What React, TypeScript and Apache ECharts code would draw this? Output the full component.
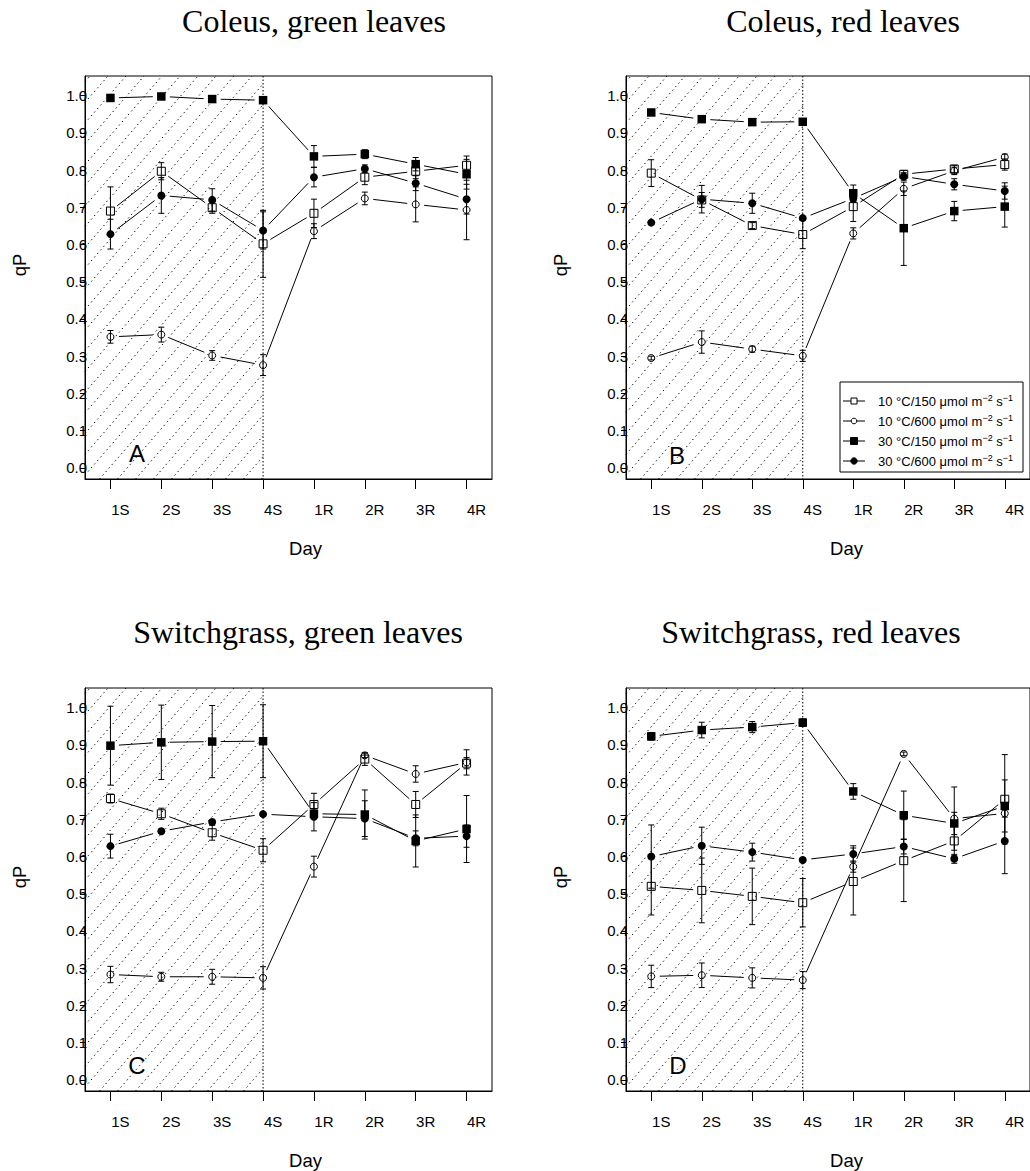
import React, { useEffect, useRef } from "react";
import * as echarts from "echarts";

// Day categories (S = stress, R = recovery)
const days = ["1S", "2S", "3S", "4S", "1R", "2R", "3R", "4R"];
const yTicks = [0, 0.1, 0.2, 0.3, 0.4, 0.5, 0.6, 0.7, 0.8, 0.9, 1.0];

// Coleus, green leaves
const cgT10L150 = [0.69, 0.797, 0.699, 0.602, 0.684, 0.781, 0.797, 0.813];
const cgT10L150Err = [0.065, 0.023, 0.015, 0.09, 0.038, 0.02, 0.02, 0.025];
const cgT10L600 = [0.352, 0.358, 0.302, 0.276, 0.636, 0.724, 0.708, 0.693];
const cgT10L600Err = [0.017, 0.02, 0.013, 0.028, 0.02, 0.017, 0.047, 0.08];
const cgT30L150 = [0.994, 0.998, 0.991, 0.988, 0.837, 0.843, 0.816, 0.789];
const cgT30L150Err = [0.004, 0.004, 0.004, 0.004, 0.029, 0.012, 0.018, 0.04];
const cgT30L600 = [0.628, 0.732, 0.72, 0.638, 0.781, 0.804, 0.765, 0.722];
const cgT30L600Err = [0.04, 0.048, 0.03, 0.05, 0.026, 0.01, 0.02, 0.04];

// Coleus, red leaves
const crT10L150 = [0.792, 0.72, 0.651, 0.627, 0.702, 0.789, 0.803, 0.815];
const crT10L150Err = [0.036, 0.02, 0.008, 0.038, 0.04, 0.01, 0.01, 0.015];
const crT10L600 = [0.295, 0.338, 0.319, 0.301, 0.63, 0.75, 0.798, 0.835];
const crT10L600Err = [0.005, 0.03, 0.008, 0.015, 0.015, 0.018, 0.01, 0.008];
const crT30L150 = [0.955, 0.937, 0.929, 0.93, 0.738, 0.644, 0.69, 0.702];
const crT30L150Err = [0.004, 0.004, 0.004, 0.006, 0.022, 0.1, 0.026, 0.055];
const crT30L600 = [0.659, 0.722, 0.711, 0.671, 0.724, 0.783, 0.762, 0.744];
const crT30L600Err = [0.005, 0.037, 0.027, 0.005, 0.01, 0.01, 0.015, 0.022];

// Switchgrass, green leaves
const sgT10L150 = [0.756, 0.715, 0.664, 0.617, 0.74, 0.862, 0.74, 0.851];
const sgT10L150Err = [0.012, 0.015, 0.02, 0.031, 0.03, 0.017, 0.035, 0.015];
const sgT10L600 = [0.283, 0.277, 0.277, 0.274, 0.573, 0.872, 0.822, 0.853];
const sgT10L600Err = [0.022, 0.012, 0.02, 0.03, 0.028, 0.006, 0.022, 0.034];
const sgT30L150 = [0.898, 0.907, 0.909, 0.91, 0.715, 0.713, 0.642, 0.674];
const sgT30L150Err = [0.106, 0.1, 0.097, 0.098, 0.01, 0.066, 0.07, 0.09];
const sgT30L600 = [0.628, 0.668, 0.693, 0.714, 0.707, 0.702, 0.649, 0.655];
const sgT30L600Err = [0.032, 0.006, 0.006, 0.005, 0.038, 0.048, 0.02, 0.03];

// Switchgrass, red leaves
const srT10L150 = [0.52, 0.509, 0.493, 0.476, 0.533, 0.589, 0.642, 0.754];
const srT10L150Err = [0.077, 0.087, 0.076, 0.065, 0.09, 0.11, 0.04, 0.12];
const srT10L600 = [0.278, 0.281, 0.274, 0.268, 0.573, 0.876, 0.702, 0.716];
const srT10L600Err = [0.03, 0.033, 0.027, 0.023, 0.015, 0.005, 0.085, 0.01];
const srT30L150 = [0.923, 0.94, 0.948, 0.96, 0.775, 0.711, 0.689, 0.736];
const srT30L150Err = [0.01, 0.021, 0.015, 0.01, 0.021, 0.065, 0.03, 0.07];
const srT30L600 = [0.6, 0.629, 0.612, 0.591, 0.607, 0.627, 0.594, 0.642];
const srT30L600Err = [0.085, 0.05, 0.024, 0.005, 0.022, 0.02, 0.012, 0.088];

const SANS = "'Liberation Sans', Arial, Helvetica, sans-serif";
const SERIF = "'Liberation Serif', 'Times New Roman', serif";

const treatments = [
  { label: "10 °C/150 μmol m", symbol: "rect", filled: false, size: 8 },
  { label: "10 °C/600 μmol m", symbol: "circle", filled: false, size: 7 },
  { label: "30 °C/150 μmol m", symbol: "rect", filled: true, size: 8.5 },
  { label: "30 °C/600 μmol m", symbol: "circle", filled: true, size: 8 },
];

const panels = [
  {
    title: "Coleus, green leaves", letter: "A",
    left: 85, top: 76, titleX: 314, titleY: 21, letterX: 137, letterY: 453,
    values: [cgT10L150, cgT10L600, cgT30L150, cgT30L600],
    errors: [cgT10L150Err, cgT10L600Err, cgT30L150Err, cgT30L600Err],
  },
  {
    title: "Coleus, red leaves", letter: "B",
    left: 626, top: 76, titleX: 843, titleY: 21, letterX: 677, letterY: 455,
    values: [crT10L150, crT10L600, crT30L150, crT30L600],
    errors: [crT10L150Err, crT10L600Err, crT30L150Err, crT30L600Err],
  },
  {
    title: "Switchgrass, green leaves", letter: "C",
    left: 85, top: 688, titleX: 298, titleY: 632, letterX: 137, letterY: 1065,
    values: [sgT10L150, sgT10L600, sgT30L150, sgT30L600],
    errors: [sgT10L150Err, sgT10L600Err, sgT30L150Err, sgT30L600Err],
  },
  {
    title: "Switchgrass, red leaves", letter: "D",
    left: 626, top: 688, titleX: 811, titleY: 632, letterX: 678, letterY: 1065,
    values: [srT10L150, srT10L600, srT30L150, srT30L600],
    errors: [srT10L150Err, srT10L600Err, srT30L150Err, srT30L600Err],
  },
];

const GRID_W = 407;
const GRID_H = 403;
const HATCH_STEP = 18;
const HATCH_SLOPE = 1.15;
const POINT_GAP = 8.5;
const CAP = 3;

// Diagonal dotted shading over the stress period, plus the dotted divider at 4S
function hatchSeries(g: number) {
  return {
    type: "custom",
    xAxisIndex: g,
    yAxisIndex: g,
    silent: true,
    clip: false,
    z: 1,
    data: [[0, 0]],
    renderItem: (params: any, api: any) => {
      const cs = params.coordSys;
      const x0 = cs.x;
      const y0 = cs.y;
      const y1 = cs.y + cs.height;
      const x1 = api.coord([3, 0])[0];
      const m = HATCH_SLOPE;
      const children: any[] = [];
      const dash = { stroke: "#000", lineWidth: 1, lineDash: [1.3, 3.4] };
      // lines: y = k - m*x  (screen coords), i.e. k = y + m*x
      const kStart = y0 + m * (x0 + 5);
      const kEnd = y1 + m * x1;
      for (let k = kStart - m * HATCH_STEP * 40; k <= kEnd; k += m * HATCH_STEP) {
        const xs = Math.max(x0, (k - y1) / m);
        const xe = Math.min(x1, (k - y0) / m);
        if (xe - xs > 0.5) {
          children.push({
            type: "line",
            shape: { x1: xs, y1: k - m * xs, x2: xe, y2: k - m * xe },
            style: dash,
          });
        }
      }
      children.push({
        type: "line",
        shape: { x1: x1, y1: y0, x2: x1, y2: y1 },
        style: { stroke: "#000", lineWidth: 1, lineDash: [1.5, 2] },
      });
      return { type: "group", children };
    },
  };
}

// Connecting segments (with gaps around the points) and ±error bars
function linkSeries(g: number, vals: number[], errs: number[]) {
  return {
    type: "custom",
    xAxisIndex: g,
    yAxisIndex: g,
    silent: true,
    clip: false,
    z: 3,
    data: vals.map((v, i) => [i, v, errs[i]]),
    renderItem: (params: any, api: any) => {
      const i = api.value(0);
      const v = api.value(1);
      const e = api.value(2);
      const p = api.coord([i, v]);
      const children: any[] = [];
      const st = { stroke: "#000", lineWidth: 1 };
      if (e > 0) {
        const t = api.coord([i, v + e]);
        const b = api.coord([i, v - e]);
        children.push({ type: "line", shape: { x1: p[0], y1: t[1], x2: p[0], y2: b[1] }, style: st });
        children.push({ type: "line", shape: { x1: p[0] - CAP, y1: t[1], x2: p[0] + CAP, y2: t[1] }, style: st });
        children.push({ type: "line", shape: { x1: p[0] - CAP, y1: b[1], x2: p[0] + CAP, y2: b[1] }, style: st });
      }
      if (params.dataIndex > 0) {
        const q = api.coord([i - 1, vals[params.dataIndex - 1]]);
        const dx = p[0] - q[0];
        const dy = p[1] - q[1];
        const len = Math.hypot(dx, dy);
        if (len > 2 * POINT_GAP) {
          const ux = dx / len;
          const uy = dy / len;
          children.push({
            type: "line",
            shape: {
              x1: q[0] + ux * POINT_GAP, y1: q[1] + uy * POINT_GAP,
              x2: p[0] - ux * POINT_GAP, y2: p[1] - uy * POINT_GAP,
            },
            style: st,
          });
        }
      }
      return { type: "group", children };
    },
  };
}

function markerSeries(g: number, vals: number[], t: number) {
  const tr = treatments[t];
  return {
    type: "scatter",
    xAxisIndex: g,
    yAxisIndex: g,
    silent: true,
    z: 4,
    symbol: tr.symbol,
    symbolSize: tr.size,
    data: vals.map((v, i) => [i, v]),
    itemStyle: {
      color: tr.filled ? "#000" : "rgba(0,0,0,0)",
      borderColor: "#000",
      borderWidth: tr.filled ? 0 : 1,
      opacity: 1,
    },
  };
}

function legendGraphic() {
  const x0 = 840;
  const y0 = 382;
  const rows = [401, 421, 441, 461];
  const children: any[] = [
    {
      type: "rect",
      shape: { x: x0, y: y0, width: 183, height: 90 },
      style: { fill: "#fff", stroke: "#000", lineWidth: 1 },
    },
  ];
  treatments.forEach((tr, i) => {
    const yy = rows[i];
    children.push({
      type: "line",
      shape: { x1: 843, y1: yy, x2: 865, y2: yy },
      style: { stroke: "#000", lineWidth: 1 },
    });
    const fill = tr.filled ? "#000" : "#fff";
    if (tr.symbol === "rect") {
      const s = tr.filled ? 7 : 6;
      children.push({
        type: "rect",
        shape: { x: 854 - s / 2, y: yy - s / 2, width: s, height: s },
        style: { fill, stroke: "#000", lineWidth: 1 },
      });
    } else {
      children.push({
        type: "circle",
        shape: { cx: 854, cy: yy, r: tr.filled ? 3.2 : 2.8 },
        style: { fill, stroke: "#000", lineWidth: 1 },
      });
    }
    children.push({
      type: "text",
      x: 878,
      y: yy,
      style: {
        text: tr.label + "{sup|−2} s{sup|−1}",
        fontFamily: SANS,
        fontSize: 13,
        fill: "#000",
        verticalAlign: "middle",
        align: "left",
        lineHeight: 16,
        rich: {
          sup: { fontSize: 9, fontFamily: SANS, fill: "#000", verticalAlign: "top", lineHeight: 16, padding: [0, 0, 6, 0] },
        },
      },
    });
  });
  return { type: "group", z: 10, children };
}

export default function App() {
  const ref = useRef<HTMLDivElement>(null);

  useEffect(() => {
    if (!ref.current) return;
    const chart = echarts.init(ref.current, null, { renderer: "svg" });

    const grid = panels.map((p) => ({
      left: p.left,
      top: p.top,
      width: GRID_W,
      height: GRID_H,
      show: true,
      borderColor: "#000",
      borderWidth: 1,
      backgroundColor: "transparent",
    }));

    const xAxis = panels.map((_, g) => ({
      type: "category",
      gridIndex: g,
      data: days,
      boundaryGap: true,
      axisLine: { show: true, onZero: false, lineStyle: { color: "#000", width: 1 } },
      axisTick: { show: true, alignWithLabel: true, interval: 0, length: 10, lineStyle: { color: "#000" } },
      axisLabel: {
        interval: 0,
        margin: 23,
        padding: [0, 0, 0, 20],
        fontFamily: SANS,
        fontSize: 15,
        color: "#000",
      },
      splitLine: { show: false },
    }));

    const yAxis = panels.map((_, g) => ({
      type: "value",
      gridIndex: g,
      min: -0.03,
      max: 1.053,
      axisLine: { show: true, onZero: false, lineStyle: { color: "#000", width: 1 } },
      axisTick: { show: true, length: 5, customValues: yTicks, lineStyle: { color: "#000" } },
      axisLabel: {
        customValues: yTicks,
        margin: -2,
        fontFamily: SANS,
        fontSize: 15,
        color: "#000",
        formatter: (v: number) => v.toFixed(1),
      },
      splitLine: { show: false },
    }));

    const series: any[] = [];
    panels.forEach((p, g) => {
      series.push(hatchSeries(g));
      p.values.forEach((vals, t) => {
        series.push(linkSeries(g, vals, p.errors[t]));
        series.push(markerSeries(g, vals, t));
      });
    });

    const graphic: any[] = [];
    panels.forEach((p) => {
      const cx = p.left + GRID_W / 2;
      graphic.push({
        type: "text",
        x: p.titleX,
        y: p.titleY,
        style: { text: p.title, fontFamily: SERIF, fontSize: 32, fill: "#000", align: "center", verticalAlign: "middle" },
      });
      graphic.push({
        type: "text",
        x: p.left - 66,
        y: p.top + 189,
        rotation: Math.PI / 2,
        style: { text: "qP", fontFamily: SANS, fontSize: 18.5, fill: "#000", align: "center", verticalAlign: "middle" },
      });
      graphic.push({
        type: "text",
        x: cx + 17,
        y: p.top + GRID_H + 69,
        style: { text: "Day", fontFamily: SANS, fontSize: 18.5, fill: "#000", align: "center", verticalAlign: "middle" },
      });
      graphic.push({
        type: "text",
        x: p.letterX,
        y: p.letterY,
        z: 5,
        style: { text: p.letter, fontFamily: SANS, fontSize: 24, fill: "#000", align: "center", verticalAlign: "middle" },
      });
    });
    graphic.push(legendGraphic());

    chart.setOption({
      animation: false,
      backgroundColor: "#fff",
      grid,
      xAxis,
      yAxis,
      series,
      graphic,
    });

    return () => chart.dispose();
  }, []);

  return (
    <div
      ref={ref}
      style={{ position: "absolute", left: 0, top: 0, width: 1030, height: 1171 }}
    />
  );
}
